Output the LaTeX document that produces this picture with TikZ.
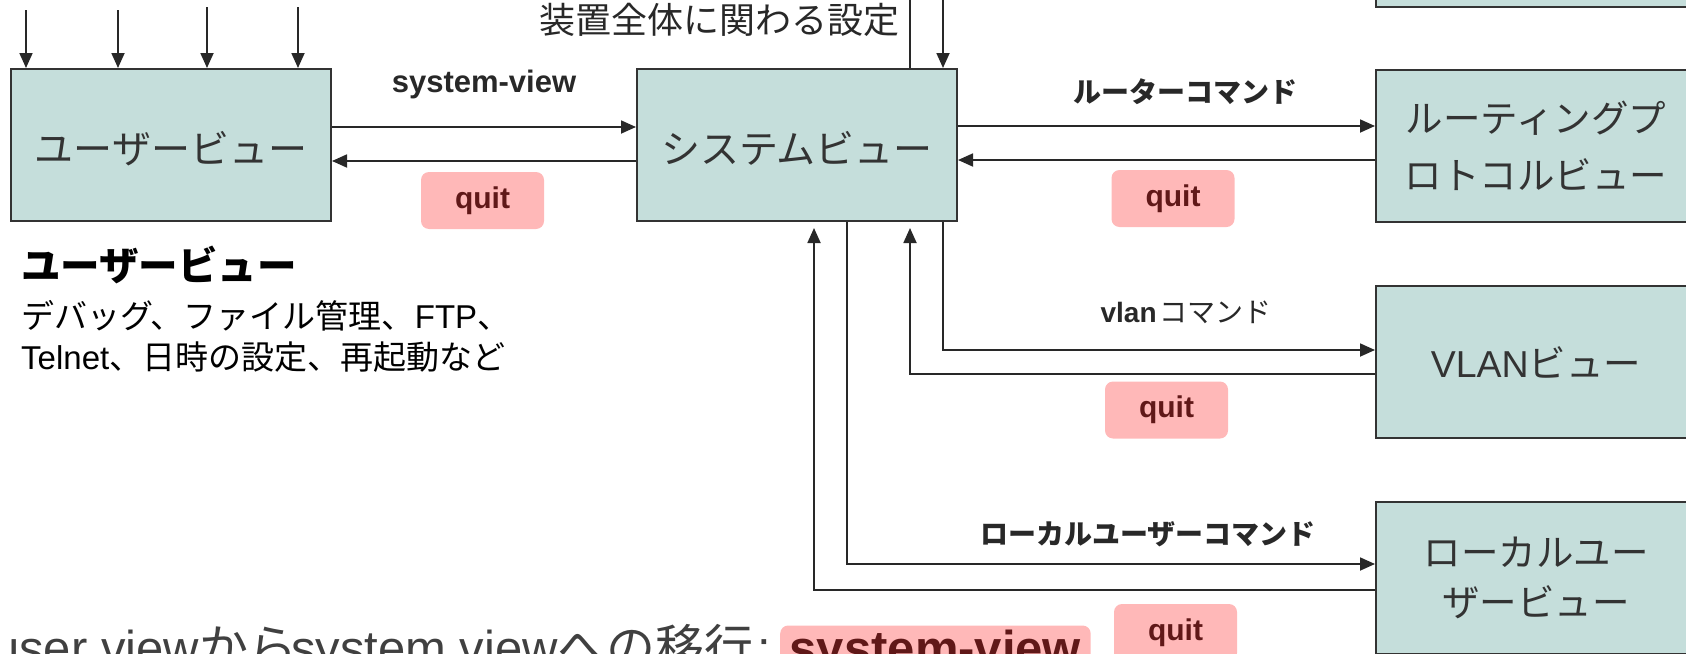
\documentclass[tikz,border=0pt]{standalone}
\usepackage{fontspec}
\setmainfont{Liberation Sans}
\newfontfamily\jp{Noto Sans CJK JP}
\usetikzlibrary{arrows.meta}
\definecolor{boxfill}{RGB}{197,222,219}
\definecolor{boxline}{RGB}{51,51,51}
\definecolor{quitfill}{RGB}{255,184,184}
\definecolor{quittext}{RGB}{96,24,24}
\definecolor{ink}{RGB}{40,40,40}
\definecolor{graytext}{RGB}{64,64,64}
\begin{document}
\begin{tikzpicture}[x=1pt,y=-1pt,
  viewbox/.style={draw=boxline, line width=2pt, fill=boxfill, minimum width=320pt, minimum height=152pt, inner sep=0pt, text=boxline, font=\jp\fontsize{39}{46}\selectfont, align=center},
  lowtext/.style={text height=42pt, text depth=5pt},
  arr/.style={draw=ink, line width=1.8pt, -{Triangle[length=15pt,width=13pt]}},
  ln/.style={draw=ink, line width=1.8pt},
  quitbox/.style={fill=quitfill, rounded corners=8pt, minimum width=123pt, minimum height=57pt, inner sep=0pt, text=quittext, font=\bfseries\fontsize{30}{36}\selectfont},
  cmdlabel/.style={text=ink, font=\jp\bfseries\fontsize{28}{32}\selectfont, inner sep=0pt},
  desc/.style={anchor=west, inner sep=0pt, text=black, font=\jp\fontsize{33}{40}\selectfont}
]
\useasboundingbox (0,0) rectangle (1686,653);
\clip (0,0) rectangle (1686,653);

% view boxes
\node[viewbox, lowtext] (user) at (171,145) {ユーザービュー};
\node[viewbox, lowtext] (sys) at (797,145) {システムビュー};
\node[viewbox] (topbox) at (1536,-69) {};
\node[viewbox, font=\jp\fontsize{37.5}{57}\selectfont] (route) at (1536,146) {ルーティングプ\\ロトコルビュー};
\node[viewbox, font=\jp\fontsize{37.5}{46}\selectfont] (vlan) at (1536,362) {{\rmfamily VLAN}ビュー};
\node[viewbox, font=\jp\fontsize{37.5}{50}\selectfont] (local) at (1536,578) {ローカルユー\\ザービュー};

% texts
\node[text=ink, inner sep=0pt, font=\jp\fontsize{36}{40}\selectfont] (zentai) at (719,20) {装置全体に関わる設定};
\node[desc, font=\jp\bfseries\fontsize{39.5}{44}\selectfont] (dhead) at (21,265) {ユーザービュー};
\node[desc] (d1) at (21,316) {デバッグ、ファイル管理、{\rmfamily FTP}、};
\node[desc] (d2) at (21,357) {{\rmfamily Telnet}、日時の設定、再起動など};

% labels
\node[text=ink, inner sep=0pt, font=\bfseries\fontsize{31}{36}\selectfont] (svlabel) at (484,84) {system-view};
\node[quitbox] (q1) at (482.5,200.5) {quit};
\node[cmdlabel] (rlabel) at (1185,92) {ルーターコマンド};
\node[quitbox] (q2) at (1173,198.5) {quit};
\node[text=ink, inner sep=0pt] (vlabel) at (1186,312) {{\bfseries\fontsize{28}{32}\selectfont vlan} {\jp\fontsize{28}{32}\selectfont コマンド}};
\node[quitbox] (q3) at (1166.5,410) {quit};
\node[cmdlabel] (llabel) at (1148,534) {ローカルユーザーコマンド};
\node[quitbox] (q4) at (1175.5,632.5) {quit};

% bottom line
\node[anchor=base west, inner sep=0pt, text=graytext, font=\fontsize{49}{52}\selectfont] (bottom) at (-8,665) {user view{\jp から}\hspace{-6pt}system view{\jp への移行}\hspace{4pt}: };
\node[anchor=base west, fill=quitfill, rounded corners=8pt, inner xsep=9.5pt, inner ysep=4pt, text=quittext, font=\bfseries\fontsize{49}{52}\selectfont] (svbox) at (780,665) {system-view};

% coordinates
\coordinate (ta) at (26,10);
\coordinate (tb) at (118,10);
\coordinate (tc) at (207,7);
\coordinate (td) at (298,7);
\coordinate (t1) at (910,-5);
\coordinate (t2) at (943,-5);
\coordinate (yA) at (0,127);
\coordinate (yB) at (0,161);
\coordinate (rA) at (0,126);
\coordinate (rB) at (0,160);
\coordinate (vx) at (943,0);
\coordinate (vyA) at (0,350);
\coordinate (vyB) at (0,374);
\coordinate (vtip) at (910,228);
\coordinate (lx) at (847,0);
\coordinate (lyA) at (0,564);
\coordinate (lyB) at (0,590);
\coordinate (ltip) at (814,228);

% connectors
\foreach \c in {ta,tb,tc,td} \draw[arr] (\c) -- (user.north -| \c);
\draw[ln] (t1) -- (sys.north -| t1);
\draw[arr] (t2) -- (sys.north -| t2);
\draw[arr] (user.east |- yA) -- (sys.west |- yA);
\draw[arr] (sys.west |- yB) -- (user.east |- yB);
\draw[arr] (sys.east |- rA) -- (route.west |- rA);
\draw[arr] (route.west |- rB) -- (sys.east |- rB);
\draw[arr] (sys.south -| vx) |- (vlan.west |- vyA);
\draw[arr] (vlan.west |- vyB) -| (vtip);
\draw[arr] (sys.south -| lx) |- (local.west |- lyA);
\draw[arr] (local.west |- lyB) -| (ltip);
\end{tikzpicture}
\end{document}
